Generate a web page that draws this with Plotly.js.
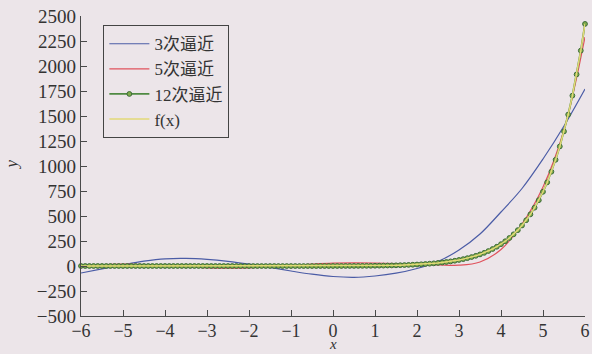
<!DOCTYPE html>
<html><head><meta charset="utf-8">
<script src="https://cdn.plot.ly/plotly-3.0.1.min.js"></script>
<style>html,body{margin:0;padding:0;background:#ece5e9}</style>
</head><body><div id="chart" style="width:592px;height:354px"></div>
<script>
// coarse sample positions for the low-degree fits
const coarseX = [-6,-5.5,-5,-4.5,-4,-3.5,-3,-2.5,-2,-1.5,-1,-0.5,0,0.5,1,1.5,2,2.5,3,3.5,4,4.5,5,5.5,6];
// 3次逼近
const approx3 = [-70,-28,12,48,72,76,66,46,18,-15,-50,-82,-105,-113,-100,-72,-25,45,160,320,540,775,1070,1400,1770];
// 5次逼近
const approx5 = [-15,10,18,15,5,-8,-18,-22,-18,-8,5,18,28,32,30,25,18,12,8,40,165,420,790,1360,2290];
// fine sample positions, step 0.1 from -6 to 6
const fineX = [];
for (let i = 0; i <= 120; i++) fineX.push(Math.round((-6 + i * 0.1) * 10) / 10);
// f(x) values
const fVals = [
-0.015,-0.016,-0.018,-0.019,-0.021,-0.022,-0.024,-0.026,-0.029,-0.031,
-0.034,-0.036,-0.039,-0.043,-0.046,-0.050,-0.054,-0.058,-0.063,-0.068,
-0.073,-0.079,-0.085,-0.091,-0.098,-0.106,-0.113,-0.122,-0.130,-0.140,
-0.149,-0.160,-0.170,-0.181,-0.193,-0.205,-0.218,-0.230,-0.244,-0.257,
-0.271,-0.284,-0.298,-0.311,-0.323,-0.335,-0.345,-0.354,-0.361,-0.366,
-0.368,-0.366,-0.359,-0.348,-0.329,-0.303,-0.268,-0.222,-0.164,-0.090,
0,0.11,0.24,0.40,0.60,0.82,1.09,1.41,1.78,2.21,
2.72,3.30,3.98,4.77,5.68,6.72,7.92,9.31,10.89,12.70,
14.78,17.15,19.86,22.94,26.46,30.46,35.01,40.18,46.04,52.71,
60.26,68.81,78.50,89.47,101.88,115.90,131.75,149.65,169.86,192.67,
218.39,247.40,280.08,316.91,358.38,405.08,457.63,516.75,583.25,658.02,
742.07,836.51,942.61,1061.79,1195.59,1345.81,1514.39,1703.54,1915.74,2153.72,
2420.57];
// 12次逼近: indistinguishable from f(x) in the picture
const approx12 = fVals.slice();

const seriesNames = ['3次逼近','5次逼近','12次逼近','f(x)'];
const xTicks = [-6,-5,-4,-3,-2,-1,0,1,2,3,4,5,6];
const yTicks = [-500,-250,0,250,500,750,1000,1250,1500,1750,2000,2250,2500];

const FONT = 'Liberation Serif, "Times New Roman", "Noto Sans CJK SC", serif';
const AX = '#4a4a4a';

const traces = [
  {x: coarseX, y: approx3, name: seriesNames[0], mode: 'lines',
   line: {color: '#4b5ca6', width: 1.2, shape: 'spline'}},
  {x: coarseX, y: approx5, name: seriesNames[1], mode: 'lines',
   line: {color: '#e0525c', width: 1.2, shape: 'spline'}},
  {x: fineX, y: approx12, name: seriesNames[2], mode: 'lines+markers', cliponaxis: false,
   line: {color: '#4f8a42', width: 1.8},
   marker: {size: 4.8, color: '#80ad4c', line: {color: '#3c6a38', width: 1}}},
  {x: fineX, y: fVals, name: seriesNames[3], mode: 'lines',
   line: {color: '#e3d977', width: 1.5}}
];

const layout = {
  width: 592, height: 354,
  margin: {l: 81, r: 7, t: 16, b: 38},
  paper_bgcolor: '#ece5e9', plot_bgcolor: '#ece5e9',
  showlegend: true,
  legend: {x: 0.044, y: 0.97, xanchor: 'left', yanchor: 'top', itemwidth: 40,
    bgcolor: 'rgba(0,0,0,0)', bordercolor: '#444', borderwidth: 1.2,
    font: {family: FONT, size: 17, color: '#333'}, tracegroupgap: 0},
  xaxis: {range: [-6, 6], tickvals: xTicks, ticks: 'inside', ticklen: 6, tickcolor: AX,
    showline: true, linecolor: AX, linewidth: 1.3, showgrid: false, zeroline: false,
    ticklabelstandoff: -2,
    tickfont: {family: FONT, size: 18, color: '#333'}},
  yaxis: {range: [-500, 2500], tickvals: yTicks, ticks: 'inside', ticklen: 6, tickcolor: AX,
    showline: true, linecolor: AX, linewidth: 1.3, showgrid: false, zeroline: false,
    tickfont: {family: FONT, size: 19, color: '#333'}},
  annotations: [
    {text: '<i>x</i>', xref: 'x', yref: 'paper', x: 0, y: -0.127, xanchor: 'center', yanchor: 'bottom',
     showarrow: false, font: {family: FONT, size: 15, color: '#333'}},
    {text: '<i>y</i>', xref: 'paper', yref: 'paper', x: -0.137, y: 0.505, xanchor: 'center', yanchor: 'middle',
     textangle: -90, showarrow: false, font: {family: FONT, size: 17, color: '#333'}}
  ]
};

Plotly.newPlot('chart', traces, layout, {displayModeBar: false, staticPlot: true});
</script></body></html>
